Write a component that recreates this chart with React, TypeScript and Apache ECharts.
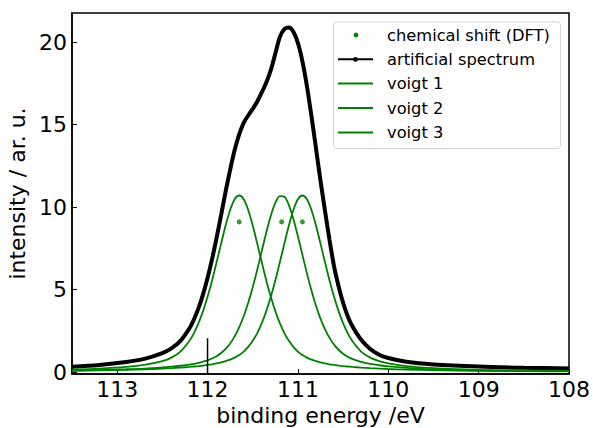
import React, { useEffect, useRef } from "react";
import * as echarts from "echarts";

// binding energy grid (eV)
const energy = [
  113.5, 113.2, 112.9, 112.7, 112.5, 112.4, 112.3, 112.2, 112.15, 112.1,
  112.05, 112.0, 111.95, 111.9, 111.85, 111.8, 111.75, 111.7, 111.65, 111.6,
  111.55, 111.5, 111.45, 111.4, 111.35, 111.3, 111.25, 111.2, 111.15, 111.1,
  111.05, 111.0, 110.95, 110.9, 110.85, 110.8, 110.75, 110.7, 110.65, 110.6,
  110.55, 110.5, 110.45, 110.4, 110.3, 110.2, 110.1, 110.0, 109.8, 109.5,
  109.0, 108.5, 108.0,
];

const voigt1 = [
  0.15, 0.21, 0.31, 0.43, 0.66, 0.87, 1.24, 1.89, 2.36, 2.96,
  3.69, 4.56, 5.55, 6.65, 7.78, 8.88, 9.82, 10.47, 10.7, 10.47,
  9.82, 8.88, 7.78, 6.65, 5.55, 4.56, 3.69, 2.96, 2.36, 1.89,
  1.52, 1.24, 1.03, 0.87, 0.75, 0.66, 0.58, 0.52, 0.47, 0.43,
  0.39, 0.36, 0.335, 0.31, 0.268, 0.234, 0.206, 0.182, 0.146, 0.109,
  0.072, 0.051, 0.038,
];

const voigt2 = [
  0.094, 0.123, 0.168, 0.211, 0.28, 0.325, 0.38, 0.45, 0.5, 0.55,
  0.63, 0.71, 0.82, 0.96, 1.15, 1.4, 1.73, 2.16, 2.71, 3.38,
  4.2, 5.14, 6.2, 7.33, 8.46, 9.47, 10.25, 10.66, 10.62, 10.12,
  9.28, 8.23, 7.1, 5.98, 4.94, 4.02, 3.24, 2.59, 2.07, 1.66,
  1.35, 1.11, 0.93, 0.8, 0.61, 0.49, 0.41, 0.345, 0.257, 0.168,
  0.106, 0.071, 0.05,
];

const voigt3 = [
  0.078, 0.1, 0.13, 0.163, 0.206, 0.234, 0.268, 0.31, 0.335, 0.36,
  0.39, 0.43, 0.47, 0.52, 0.58, 0.66, 0.75, 0.87, 1.03, 1.24,
  1.52, 1.89, 2.36, 2.96, 3.69, 4.56, 5.55, 6.65, 7.78, 8.88,
  9.82, 10.47, 10.7, 10.47, 9.82, 8.88, 7.78, 6.65, 5.55, 4.56,
  3.69, 2.96, 2.36, 1.89, 1.24, 0.87, 0.66, 0.52, 0.36, 0.234,
  0.13, 0.084, 0.058,
];

const spectrum = [
  0.32, 0.43, 0.61, 0.8, 1.15, 1.43, 1.89, 2.65, 3.2, 3.87,
  4.71, 5.7, 6.84, 8.13, 9.51, 10.94, 12.25, 13.45, 14.4, 15.1,
  15.55, 15.95, 16.4, 16.95, 17.55, 18.3, 19.3, 20.3, 20.78, 20.88,
  20.62, 19.94, 18.83, 17.32, 15.51, 13.56, 11.6, 9.76, 8.0, 6.4,
  5.2, 4.2, 3.4, 2.8, 1.95, 1.4, 1.05, 0.85, 0.62, 0.46,
  0.33, 0.26, 0.22,
];

const shiftEnergy = [111.65, 111.18, 110.95];
const shiftLevel = [9.1, 9.1, 9.1];

const refLineEnergy = [112, 112];
const refLineLevel = [-0.12, 2.05];

const xTicks = [113, 112, 111, 110, 109, 108];
const yTicks = [0, 5, 10, 15, 20];

const legendNames = [
  "chemical shift (DFT)",
  "artificial spectrum",
  "voigt 1",
  "voigt 2",
  "voigt 3",
];

const GREEN = "#008000";
const FONT = '"DejaVu Sans", "Liberation Sans", sans-serif';

const pairs = (xs: number[], ys: number[]) => xs.map((x, i) => [x, ys[i]]);

export default function App() {
  const ref = useRef<HTMLDivElement>(null);

  useEffect(() => {
    if (!ref.current) return;
    const chart = echarts.init(ref.current, undefined, { renderer: "svg" });

    const lineSeries = (name: string, ys: number[], color: string, width: number) => ({
      name,
      type: "line",
      data: pairs(energy, ys),
      smooth: 0.3,
      showSymbol: false,
      lineStyle: { color, width },
      itemStyle: { color },
      z: 3,
    });

    const rowY = [35, 59.3, 83.5, 108, 132.5];
    const legendElems: any[] = [
      {
        type: "rect",
        shape: { x: 333.5, y: 22, width: 227, height: 126.5, r: 3 },
        style: { fill: "rgba(255,255,255,0.85)", stroke: "#d4d4d4", lineWidth: 1 },
        z: 10,
      },
      {
        type: "circle",
        shape: { cx: 356, cy: rowY[0], r: 2.4 },
        style: { fill: GREEN },
        z: 11,
      },
      {
        type: "line",
        shape: { x1: 338, y1: rowY[1], x2: 373, y2: rowY[1] },
        style: { stroke: "#000", lineWidth: 2 },
        z: 11,
      },
      {
        type: "circle",
        shape: { cx: 355.5, cy: rowY[1], r: 2.4 },
        style: { fill: "#000" },
        z: 11,
      },
    ];
    [2, 3, 4].forEach((i) => {
      legendElems.push({
        type: "line",
        shape: { x1: 338, y1: rowY[i], x2: 373, y2: rowY[i] },
        style: { stroke: GREEN, lineWidth: 2 },
        z: 11,
      });
    });
    legendNames.forEach((name, i) => {
      legendElems.push({
        type: "text",
        x: 387,
        y: rowY[i],
        style: {
          text: name,
          fill: "#000",
          font: `16.3px ${FONT}`,
          verticalAlign: "middle",
          align: "left",
        },
        z: 11,
      });
    });

    chart.setOption({
      animation: false,
      backgroundColor: "#fff",
      grid: {
        left: 72,
        right: 24,
        top: 13,
        bottom: 54,
        outerBoundsMode: "none",
        containLabel: false,
        show: true,
        borderColor: "#000",
        borderWidth: 1.5,
        backgroundColor: "transparent",
      },
      xAxis: {
        type: "value",
        inverse: true,
        min: 108,
        max: 113.5,
        name: "binding energy /eV",
        nameLocation: "middle",
        nameGap: 25,
        nameTextStyle: { fontFamily: FONT, fontSize: 22, color: "#000" },
        axisLine: { show: true, onZero: false, lineStyle: { color: "#000", width: 1.5 } },
        axisTick: {
          show: true,
          inside: true,
          length: 5,
          customValues: xTicks,
          lineStyle: { color: "#000", width: 1 },
        },
        axisLabel: {
          show: true,
          customValues: xTicks,
          margin: 4,
          fontFamily: FONT,
          fontSize: 22,
          color: "#000",
        },
        splitLine: { show: false },
      },
      yAxis: {
        type: "value",
        min: -0.12,
        max: 21.76,
        name: "intensity / ar. u.",
        nameLocation: "middle",
        nameGap: 41,
        nameTextStyle: { fontFamily: FONT, fontSize: 22, color: "#000" },
        axisLine: { show: true, onZero: false, lineStyle: { color: "#000", width: 1.5 } },
        axisTick: {
          show: true,
          inside: true,
          length: 5,
          customValues: yTicks,
          lineStyle: { color: "#000", width: 1 },
        },
        axisLabel: {
          show: true,
          customValues: yTicks,
          margin: 5,
          fontFamily: FONT,
          fontSize: 22,
          color: "#000",
        },
        splitLine: { show: false },
      },
      series: [
        {
          name: legendNames[0],
          type: "scatter",
          data: pairs(shiftEnergy, shiftLevel),
          symbol: "circle",
          symbolSize: 5,
          itemStyle: { color: GREEN },
          z: 4,
        },
        {
          ...lineSeries(legendNames[1], spectrum, "#000", 4),
          z: 2,
        },
        lineSeries(legendNames[2], voigt1, GREEN, 1.8),
        lineSeries(legendNames[3], voigt2, GREEN, 1.8),
        lineSeries(legendNames[4], voigt3, GREEN, 1.8),
        {
          name: "reference",
          type: "line",
          data: pairs(refLineEnergy, refLineLevel),
          showSymbol: false,
          lineStyle: { color: "#000", width: 1.5 },
          z: 5,
        },
      ],
      graphic: legendElems,
    });

    return () => chart.dispose();
  }, []);

  return (
    <div
      ref={ref}
      style={{ position: "fixed", left: 0, top: 0, width: 593, height: 428, background: "#fff" }}
    />
  );
}
